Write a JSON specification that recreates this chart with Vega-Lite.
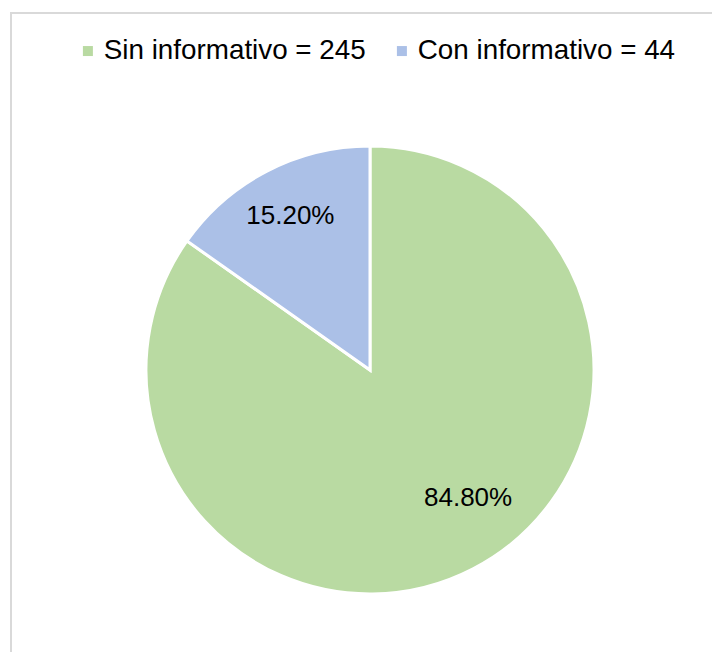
{
  "$schema": "https://vega.github.io/schema/vega-lite/v6.json",
  "width": 718,
  "height": 714,
  "autosize": {"type": "none"},
  "padding": {"left": 11, "top": 13, "right": 0, "bottom": 0},
  "background": "#ffffff",
  "view": {"stroke": "#d9d9d9", "strokeWidth": 2},
  "config": {
    "view": {"stroke": "#d9d9d9", "strokeWidth": 2},
    "font": "Liberation Sans"
  },
  "data": {
    "values": [
      {"cat": "Sin informativo = 245", "n": 245, "pct": 0.848, "orden": 1},
      {"cat": "Con informativo = 44", "n": 44, "pct": 0.152, "orden": 2}
    ]
  },
  "encoding": {
    "theta": {"field": "n", "type": "quantitative", "stack": true},
    "order": {"field": "orden", "type": "quantitative"}
  },
  "layer": [
    {
      "mark": {"type": "arc", "outerRadius": 224, "stroke": "#ffffff", "strokeWidth": 3},
      "encoding": {
        "color": {
          "field": "cat",
          "type": "nominal",
          "scale": {"domain": ["Sin informativo = 245", "Con informativo = 44"], "range": ["#b9daa2", "#abc0e7"]},
          "legend": {
            "orient": "none",
            "legendX": 63,
            "legendY": 24,
            "direction": "horizontal",
            "title": null,
            "symbolType": "square",
            "symbolSize": 100,
            "symbolStrokeWidth": 0,
            "labelFontSize": 27.8,
            "labelFont": "Liberation Sans",
            "labelColor": "#000000",
            "labelLimit": 0,
            "labelOffset": 2,
            "columnPadding": 22,
            "padding": 0
          }
        }
      }
    },
    {
      "mark": {"type": "text", "radius": 173, "fontSize": 26, "color": "#000000", "align": "center", "baseline": "middle"},
      "encoding": {
        "text": {"field": "pct", "type": "quantitative", "format": ".2%", "condition": {"test": "datum.orden == 1", "value": ""}}
      }
    },
    {
      "mark": {"type": "text", "radius": 161, "dx": 24, "dy": -15, "fontSize": 26, "color": "#000000", "align": "center", "baseline": "middle"},
      "encoding": {
        "text": {"field": "pct", "type": "quantitative", "format": ".2%", "condition": {"test": "datum.orden == 2", "value": ""}}
      }
    }
  ]
}
